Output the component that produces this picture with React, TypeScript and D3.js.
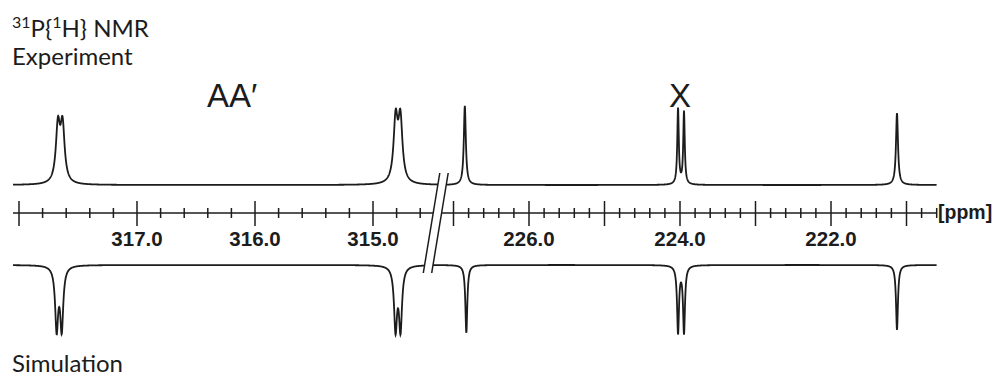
import React from "react";
import * as d3 from "d3";

// Peak lists (ppm, relative intensity, half-width in ppm)
const expPeakPpm = [317.67, 317.631, 314.808, 314.768, 226.85, 224.026, 223.947, 221.126];
const expPeakHeight = [0.7, 0.7, 0.78, 0.78, 0.99, 0.95, 0.91, 0.9];
const expPeakWidth = [0.021, 0.021, 0.021, 0.021, 0.016, 0.012, 0.012, 0.016];

const simPeakPpm = [317.681, 317.638, 314.809, 314.767, 226.83, 224.026, 223.947, 221.126];
const simPeakHeight = [0.78, 0.78, 0.78, 0.78, 0.85, 0.84, 0.84, 0.81];
const simPeakWidth = [0.0153, 0.0153, 0.0153, 0.0153, 0.0153, 0.0153, 0.0153, 0.0153];

// Axis
const leftMajor = [318, 317, 316, 315];
const rightMajor = [227, 226, 225, 224, 223, 222, 221];
const leftLabels = ["317.0", "316.0", "315.0"];
const rightLabels = ["226.0", "224.0", "222.0"];
const leftRange = [318.0, 314.6];
const rightRange = [227.0, 220.6];

const W = 997;
const H = 379;
const INK = "#1c1c1c";

const xLeft = d3.scaleLinear().domain([317, 315]).range([137, 373]);
const xRight = d3.scaleLinear().domain([226, 222]).range([529, 831]);
const yTop = d3.scaleLinear().domain([0, 1]).range([185, 105]);
const yBot = d3.scaleLinear().domain([0, 1]).range([265, 345]);

function spectrum(ppm: number, pos: number[], h: number[], w: number[]) {
  let s = 0;
  for (let i = 0; i < pos.length; i++) {
    const d = ppm - pos[i];
    s += (h[i] * w[i] * w[i]) / (d * d + w[i] * w[i]);
  }
  return s;
}

function buildPath(
  xs: d3.ScaleLinear<number, number>,
  ys: d3.ScaleLinear<number, number>,
  x0: number,
  x1: number,
  pos: number[],
  h: number[],
  w: number[]
) {
  const pts: [number, number][] = [];
  for (let px = x0; px <= x1; px += 0.2) {
    const ppm = xs.invert(px);
    pts.push([px, ys(spectrum(ppm, pos, h, w))]);
  }
  return d3.line()(pts) || "";
}

function minorTicks(a: number, b: number) {
  const n = Math.round((a - b) / 0.2);
  return d3.range(0, n + 1).map((i) => +(a - 0.2 * i).toFixed(1));
}

const AXIS_Y = 213;

export default function App() {
  const xStart = 13;
  const xEnd = xRight(rightRange[1]);
  // slash geometry
  const slope = 0.165;
  const cx = (y: number) => 444 - slope * (y - 173);
  const leftClip = `0,0 ${cx(0)},0 ${cx(H)},${H} 0,${H}`;
  const rightClip = `${cx(0)},0 ${W},0 ${W},${H} ${cx(H)},${H}`;
  const gap = 4.2;
  const sy0 = 173;
  const sy1 = 273;
  const para = `${cx(sy0) - gap},${sy0} ${cx(sy0) + gap},${sy0} ${cx(sy1) + gap},${sy1} ${cx(sy1) - gap},${sy1}`;

  const topL = buildPath(xLeft, yTop, xStart, 470, expPeakPpm, expPeakHeight, expPeakWidth);
  const topR = buildPath(xRight, yTop, 400, xEnd, expPeakPpm, expPeakHeight, expPeakWidth);
  const botL = buildPath(xLeft, yBot, xStart, 470, simPeakPpm, simPeakHeight, simPeakWidth);
  const botR = buildPath(xRight, yBot, 400, xEnd, simPeakPpm, simPeakHeight, simPeakWidth);

  const lt = minorTicks(leftRange[0], leftRange[1]);
  const rt = minorTicks(rightRange[0], rightRange[1]);

  const textFont = "Lato, 'Open Sans', sans-serif";
  const bigFont = "'Liberation Sans', Arial, sans-serif";

  return (
    <svg
      width={W}
      height={H}
      style={{ position: "absolute", left: 0, top: 0, background: "#fff" }}
    >
      <defs>
        <clipPath id="clipL">
          <polygon points={leftClip} />
        </clipPath>
        <clipPath id="clipR">
          <polygon points={rightClip} />
        </clipPath>
      </defs>

      {/* Titles */}
      <text x={12} y={37} fontFamily={textFont} fontSize={24} fill={INK}>
        <tspan fontSize={16} dy={-9}>31</tspan>
        <tspan dy={9}>P{"{"}</tspan>
        <tspan fontSize={16} dy={-9}>1</tspan>
        <tspan dy={9}>H{"}"} NMR</tspan>
      </text>
      <text x={12} y={65} fontFamily={textFont} fontSize={24} fill={INK}>
        Experiment
      </text>
      <text x={12} y={372} fontFamily={textFont} fontSize={24} fill={INK}>
        Simulation
      </text>
      <text x={207} y={107} fontFamily={bigFont} fontSize={33} fill={INK}>
        AA′
      </text>
      <text x={680} y={107} fontFamily={bigFont} fontSize={33} fill={INK} textAnchor="middle">
        X
      </text>

      {/* Left segment */}
      <g clipPath="url(#clipL)" stroke={INK} fill="none">
        <path d={topL} strokeWidth={1.8} />
        <path d={botL} strokeWidth={1.8} />
        <line x1={xStart} x2={470} y1={AXIS_Y} y2={AXIS_Y} strokeWidth={1.6} />
        {lt.map((t) => {
          const major = leftMajor.includes(t);
          return (
            <line
              key={"l" + t}
              x1={xLeft(t)}
              x2={xLeft(t)}
              y1={major ? AXIS_Y - 12 : AXIS_Y - 5}
              y2={major ? AXIS_Y + 13 : AXIS_Y + 5}
              strokeWidth={1.5}
            />
          );
        })}
      </g>

      {/* Right segment */}
      <g clipPath="url(#clipR)" stroke={INK} fill="none">
        <path d={topR} strokeWidth={1.8} />
        <path d={botR} strokeWidth={1.8} />
        <line x1={400} x2={xEnd} y1={AXIS_Y} y2={AXIS_Y} strokeWidth={1.6} />
        {rt.map((t) => {
          const major = rightMajor.includes(t);
          return (
            <line
              key={"r" + t}
              x1={xRight(t)}
              x2={xRight(t)}
              y1={major ? AXIS_Y - 12 : AXIS_Y - 5}
              y2={major ? AXIS_Y + 13 : AXIS_Y + 5}
              strokeWidth={1.5}
            />
          );
        })}
      </g>

      {/* Break marks */}
      <polygon points={para} fill="#fff" stroke="none" />
      <line x1={cx(sy0) - gap} y1={sy0} x2={cx(sy1) - gap} y2={sy1} stroke={INK} strokeWidth={1.5} />
      <line x1={cx(sy0) + gap} y1={sy0} x2={cx(sy1) + gap} y2={sy1} stroke={INK} strokeWidth={1.5} />

      {/* Tick labels */}
      {leftLabels.map((l) => (
        <text
          key={l}
          x={xLeft(+l)}
          y={246}
          textAnchor="middle"
          fontFamily={bigFont}
          fontWeight="bold"
          fontSize={20.5}
          fill={INK}
        >
          {l}
        </text>
      ))}
      {rightLabels.map((l) => (
        <text
          key={l}
          x={xRight(+l)}
          y={246}
          textAnchor="middle"
          fontFamily={bigFont}
          fontWeight="bold"
          fontSize={20.5}
          fill={INK}
        >
          {l}
        </text>
      ))}
      <text x={938} y={219} fontFamily={bigFont} fontWeight="bold" fontSize={19.5} fill={INK}>
        [ppm]
      </text>
    </svg>
  );
}
